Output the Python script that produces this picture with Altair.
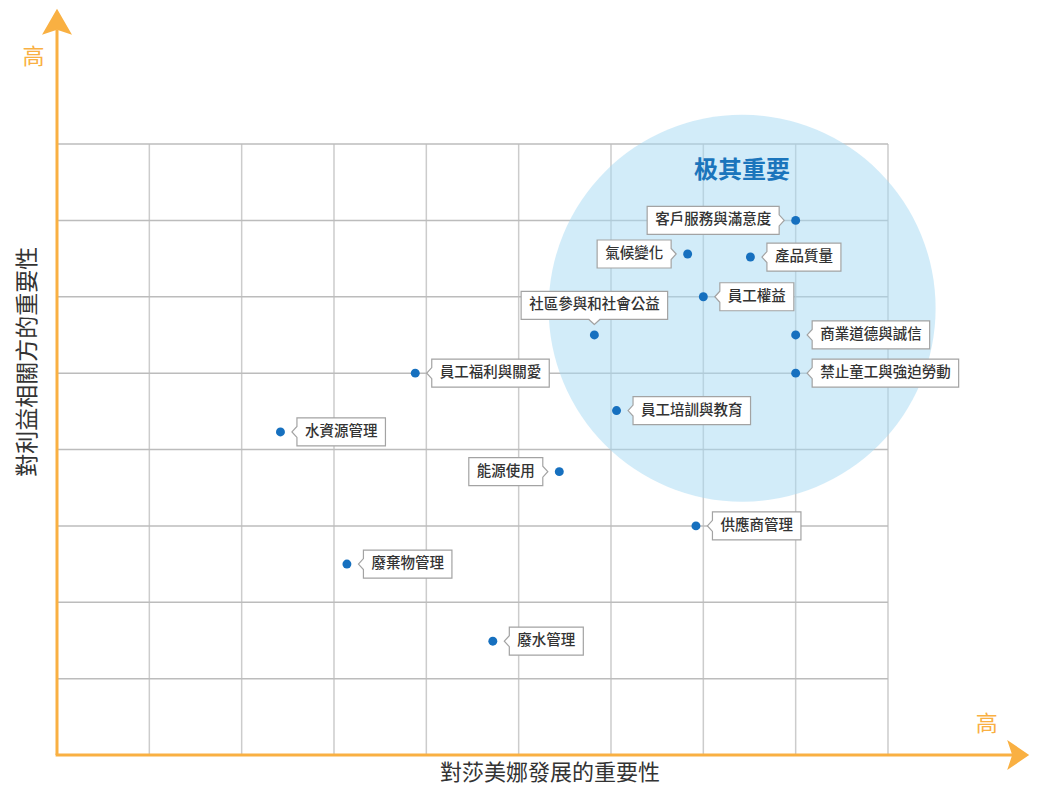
import altair as alt
import pandas as pd

# ---------------- data ----------------
topics = ["客戶服務與滿意度", "氣候變化", "產品質量", "員工權益", "社區參與和社會公益",
          "商業道德與誠信", "禁止童工與強迫勞動", "員工福利與關愛", "員工培訓與教育",
          "水資源管理", "能源使用", "供應商管理", "廢棄物管理", "廢水管理"]
dev_importance = [8.0, 6.83, 7.51, 7.0, 5.82, 8.0, 8.0, 3.88, 6.06, 2.42, 5.44, 6.92, 3.14, 4.72]
stake_importance = [7.0, 6.56, 6.52, 6.0, 5.5, 5.5, 5.0, 5.0, 4.51, 4.23, 3.71, 3.0, 2.5, 1.49]
label_side = ["left", "left", "right", "right", "top", "right", "right", "right", "right",
              "right", "left", "right", "right", "right"]

x_grid = [1, 2, 3, 4, 5, 6, 7, 8, 9]
y_grid = [1, 2, 3, 4, 5, 6, 7, 8]
x_max, y_max = 9, 8

highlight_x, highlight_y = 7.42, 5.85
highlight_title = "极其重要"
highlight_title_y = 7.65
x_title = "對莎美娜發展的重要性"
y_title = "對利益相關方的重要性"
high_label = "高"

# ---------------- layout ----------------
W, H = 1023, 779
PX_X, PX_Y = 92.333, 76.375        # pixels per unit
ORIGIN_X, ORIGIN_Y = 49, 747        # svg pixel of (0,0)
x_domain = [-ORIGIN_X / PX_X, (W - ORIGIN_X) / PX_X]
y_domain = [(ORIGIN_Y - H) / PX_Y, ORIGIN_Y / PX_Y]
xs = alt.Scale(domain=x_domain, nice=False, zero=False)
ys = alt.Scale(domain=y_domain, nice=False, zero=False)
X = lambda f: alt.X(f, type="quantitative", scale=xs, axis=None)
Y = lambda f: alt.Y(f, type="quantitative", scale=ys, axis=None)

ORANGE = "#f9b042"
FONT = "Noto Sans CJK TC"
CHAR_W, PAD, FS = 14.5, 8, 14.5
CIRCLE_DIAM = 387


def callout_path(side, n):
    w = n * CHAR_W + 2 * PAD
    tip, edge, nh, hh = 11.5, 16.5, 5.5, 14
    if side == "right":
        x1 = edge + w
        return (f"M{tip},0 L{edge},{-nh} L{edge},{-hh} L{x1},{-hh} L{x1},{hh} "
                f"L{edge},{hh} L{edge},{nh} Z")
    if side == "left":
        x1 = -(edge + w)
        return (f"M{-tip},0 L{-edge},{-nh} L{-edge},{-hh} L{x1},{-hh} L{x1},{hh} "
                f"L{-edge},{hh} L{-edge},{nh} Z")
    hw = w / 2
    top = -(15.5 + 2 * hh)
    return (f"M0,{-10.5} L{-nh},{-15.5} L{-hw},{-15.5} L{-hw},{top} L{hw},{top} "
            f"L{hw},{-15.5} L{nh},{-15.5} Z")


pts = pd.DataFrame({"topic": topics, "x": dev_importance, "y": stake_importance,
                    "side": label_side})
pts["path"] = [callout_path(s, len(t)) for s, t in zip(label_side, topics)]

vgrid = pd.DataFrame({"x": x_grid, "y": [0] * len(x_grid), "y2": [y_max] * len(x_grid)})
hgrid = pd.DataFrame({"y": y_grid, "x": [0] * len(y_grid), "x2": [x_max] * len(y_grid)})

vrules = alt.Chart(vgrid).mark_rule(color="#cccccc", strokeWidth=1.5).encode(
    x=X("x"), y=Y("y"), y2="y2")
hrules = alt.Chart(hgrid).mark_rule(color="#bcbcbc", strokeWidth=1.5).encode(
    y=Y("y"), x=X("x"), x2="x2")

circle = alt.Chart(pd.DataFrame({"x": [highlight_x], "y": [highlight_y]})).mark_circle(
    color="#a5d9f3", opacity=0.5, size=CIRCLE_DIAM ** 2).encode(x=X("x"), y=Y("y"))

hl_text = alt.Chart(pd.DataFrame({"x": [highlight_x], "y": [highlight_title_y],
                                  "t": [highlight_title]})).mark_text(
    font=FONT, fontSize=24, fontWeight="bold", color="#1b75bc").encode(
    x=X("x"), y=Y("y"), text="t:N")

# axes (orange arrows)
y_axis = alt.Chart(pd.DataFrame({"x": [0], "y": [0], "y2": [9.5]})).mark_rule(
    color=ORANGE, strokeWidth=3).encode(x=X("x"), y=Y("y"), y2="y2")
x_axis = alt.Chart(pd.DataFrame({"x": [-0.015], "x2": [10.45], "y": [0]})).mark_rule(
    color=ORANGE, strokeWidth=3).encode(x=X("x"), x2="x2", y=Y("y"))
arrows = pd.DataFrame({"x": [0, 10.41], "y": [9.6, 0],
                       "shape": ["M0,-13 L-15,13 L0,8 L15,13 Z",
                                 "M11,0 L-11,-15 L-6,0 L-11,15 Z"]})
arrow_heads = alt.Chart(arrows).mark_point(filled=True, fill=ORANGE, stroke=None,
                                           opacity=1).encode(
    x=X("x"), y=Y("y"), shape=alt.Shape("shape:N", scale=None), size=alt.value(4))

high_df = pd.DataFrame({"x": [-0.255, 10.07], "y": [9.14, 0.41], "t": [high_label, high_label]})
highs = alt.Chart(high_df).mark_text(font=FONT, fontSize=22, color=ORANGE).encode(
    x=X("x"), y=Y("y"), text="t:N")

titles_df = pd.DataFrame({"x": [5.34], "y": [-0.24], "t": [x_title]})
xt = alt.Chart(titles_df).mark_text(font=FONT, fontSize=22, color="#333333",
                                    baseline="middle").encode(
    x=X("x"), y=Y("y"), text="t:N")
yt_df = pd.DataFrame({"x": [-0.31], "y": [5.15], "t": [y_title]})
yt = alt.Chart(yt_df).mark_text(font=FONT, fontSize=23, color="#333333", angle=270).encode(
    x=X("x"), y=Y("y"), text="t:N")

base = alt.Chart(pts)
boxes = base.mark_point(filled=True, fill="white", stroke="#a3a3a3", strokeWidth=1.2,
                        opacity=1).encode(
    x=X("x"), y=Y("y"), shape=alt.Shape("path:N", scale=None), size=alt.value(4))
dots = base.mark_circle(color="#1670bf", opacity=1, size=80).encode(x=X("x"), y=Y("y"))

txt_kw = dict(font=FONT, fontSize=FS, fontWeight=500, color="#333333", baseline="middle")
t_right = base.transform_filter(alt.datum.side == "right").mark_text(
    align="left", dx=16.5 + PAD, **txt_kw).encode(x=X("x"), y=Y("y"), text="topic:N")
t_left = base.transform_filter(alt.datum.side == "left").mark_text(
    align="right", dx=-(16.5 + PAD), **txt_kw).encode(x=X("x"), y=Y("y"), text="topic:N")
t_top = base.transform_filter(alt.datum.side == "top").mark_text(
    align="center", dy=-29.5, **txt_kw).encode(x=X("x"), y=Y("y"), text="topic:N")

chart = alt.layer(
    vrules, hrules, circle, hl_text, y_axis, x_axis, arrow_heads, highs, xt, yt,
    boxes, dots, t_right, t_left, t_top
).properties(
    width=W, height=H, padding=0, autosize=alt.AutoSizeParams(type="none"),
    background="white"
).configure_view(stroke=None)

chart.save("out.html", embed_options={"renderer": "svg", "actions": False})
